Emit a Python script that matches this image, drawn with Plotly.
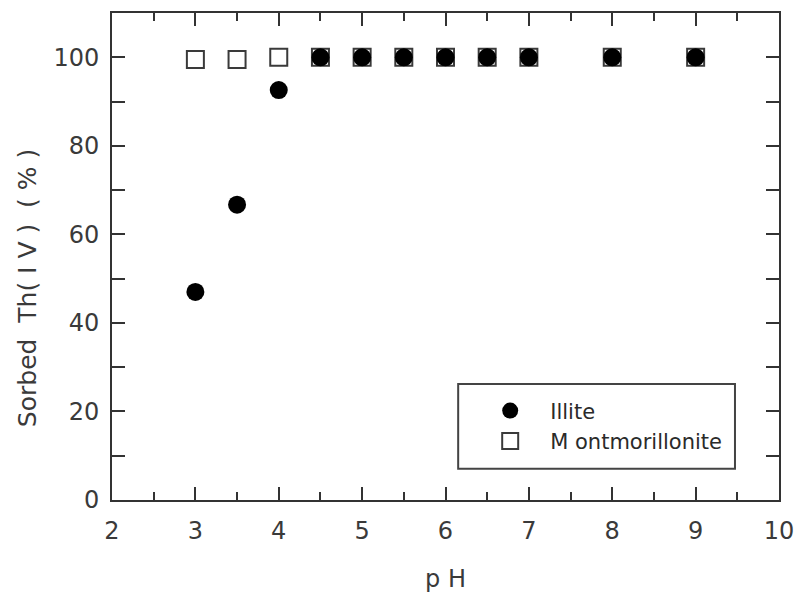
import plotly.graph_objects as go

# Sorption edge data: pH vs sorbed Th(IV) percentage
ph_values = [3, 3.5, 4, 4.5, 5, 5.5, 6, 6.5, 7, 8, 9]
illite_sorbed = [47, 66.7, 92.6, 100, 100, 100, 100, 100, 100, 100, 100]
montmorillonite_sorbed = [99.5, 99.5, 100, 100, 100, 100, 100, 100, 100, 100, 100]

x_ticks = [2, 3, 4, 5, 6, 7, 8, 9, 10]
y_ticks = [0, 20, 40, 60, 80, 100]

FONT = "DejaVu Sans"
TEXT_COLOR = "#3a3a3a"
AXIS_COLOR = "#333333"
NBSP = "\u00a0"

fig = go.Figure()

fig.add_trace(go.Scatter(
    x=ph_values, y=montmorillonite_sorbed, mode="markers",
    name=NBSP * 3 + "M ontmorillonite",
    marker=dict(symbol="square-open", size=17, color="#3a3a3a",
                line=dict(width=2, color="#3a3a3a")),
))
fig.add_trace(go.Scatter(
    x=ph_values, y=illite_sorbed, mode="markers",
    name=NBSP * 3 + "Illite",
    marker=dict(symbol="circle", size=18, color="black",
                line=dict(width=0)),
))

axis_common = dict(
    showline=True, linecolor=AXIS_COLOR, linewidth=2, mirror="allticks",
    ticks="inside", tickcolor=AXIS_COLOR, tickwidth=2,
    showgrid=False, zeroline=False, automargin=False,
    ticklabeloverflow="allow",
    tickfont=dict(family=FONT, size=24, color=TEXT_COLOR),
)

fig.update_xaxes(
    range=[2, 10], tickvals=x_ticks, ticklen=13,
    minor=dict(dtick=0.5, ticks="inside", ticklen=8, tickcolor=AXIS_COLOR, tickwidth=2),
    ticklabelstandoff=8,
    title=dict(text="p H", font=dict(family=FONT, size=24, color=TEXT_COLOR), standoff=26),
    **axis_common,
)
fig.update_yaxes(
    range=[0, 110], tickvals=y_ticks, ticklen=13,
    minor=dict(dtick=10, ticks="inside", ticklen=13, tickcolor=AXIS_COLOR, tickwidth=2),
    ticklabelstandoff=6,
    **axis_common,
)

# Vertical axis title
fig.add_annotation(
    text="Sorbed" + NBSP * 2 + "Th(" + NBSP + "I" + NBSP + "V" + NBSP + ")"
         + NBSP * 2 + "(" + NBSP + "%" + NBSP + ")",
    textangle=-90,
    xref="paper", yref="paper", x=-0.1274, y=0.435,
    xanchor="center", yanchor="middle", showarrow=False,
    font=dict(family=FONT, size=25, color=TEXT_COLOR),
)

# Legend frame
fig.add_shape(
    type="rect", xref="paper", yref="paper",
    x0=0.519, x1=0.934, y0=0.064, y1=0.238,
    line=dict(color="#444444", width=2), fillcolor="rgba(0,0,0,0)",
)

fig.update_layout(
    width=794, height=595,
    margin=dict(l=112, r=15, t=13, b=95),
    paper_bgcolor="white", plot_bgcolor="white",
    showlegend=True,
    legend=dict(
        x=0.567, y=0.225, xanchor="left", yanchor="top",
        traceorder="reversed",
        bgcolor="rgba(0,0,0,0)", borderwidth=0,
        font=dict(family=FONT, size=21, color="#2a2a2a"),
        itemsizing="trace",
    ),
)

fig.write_html("out.html")
